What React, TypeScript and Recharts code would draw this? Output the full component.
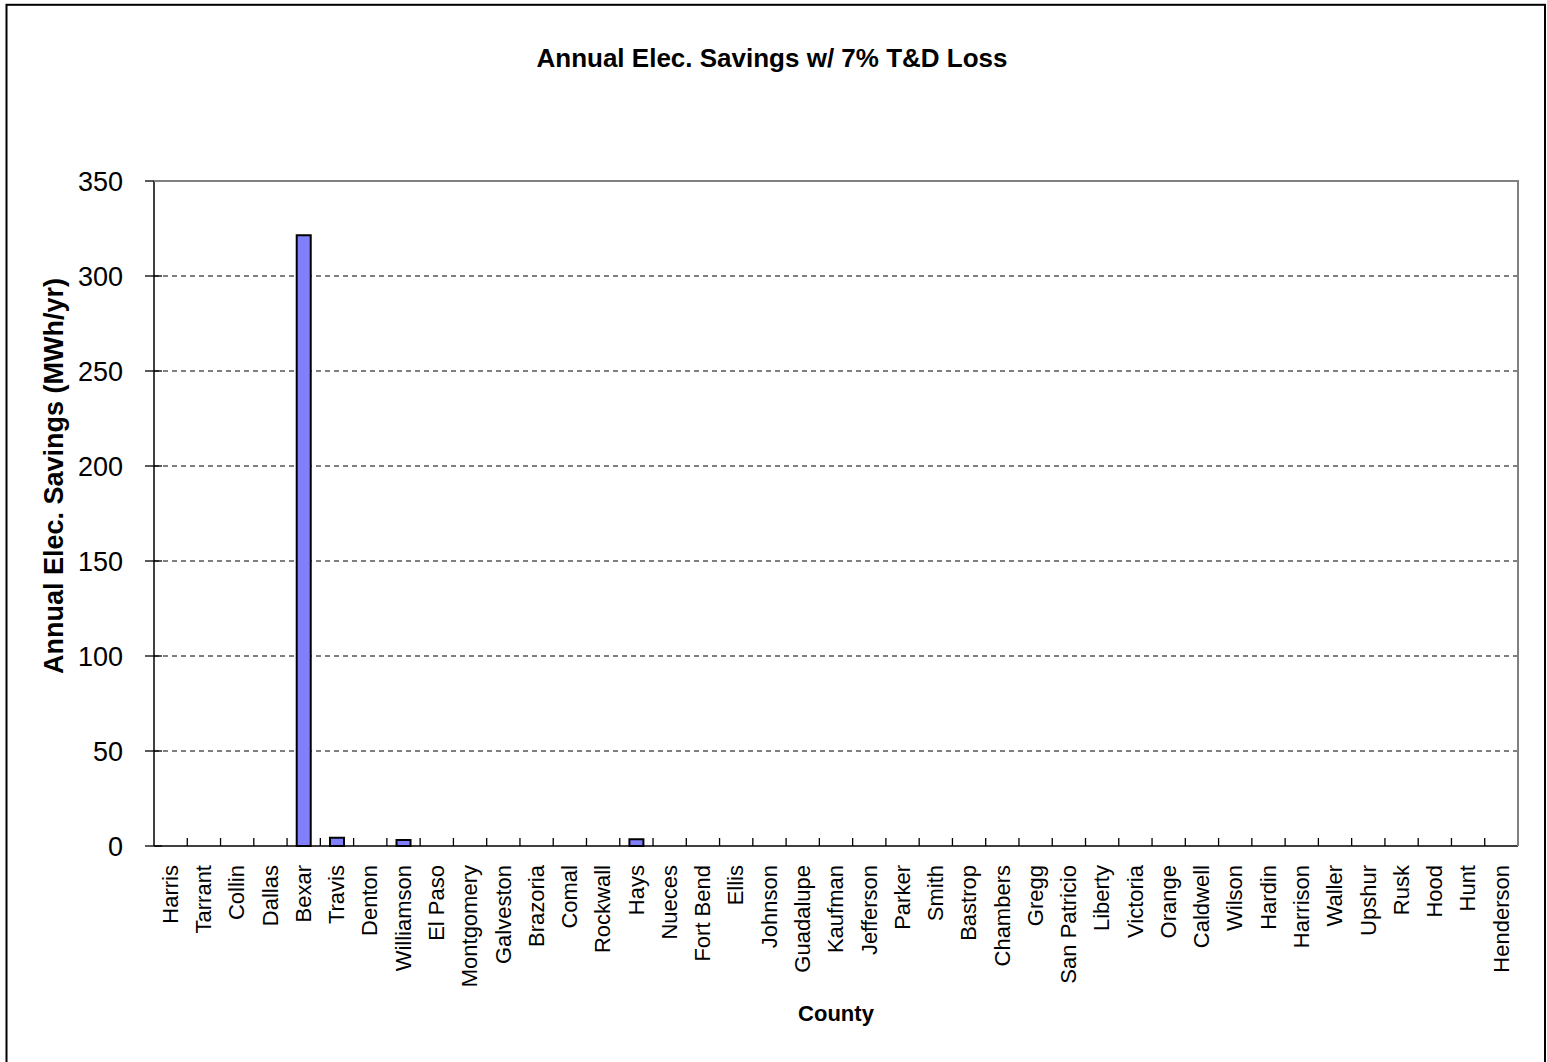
import React from 'react';
import { BarChart, Bar, XAxis, YAxis, CartesianGrid } from 'recharts';

const counties = [
  'Harris', 'Tarrant', 'Collin', 'Dallas', 'Bexar', 'Travis', 'Denton', 'Williamson', 'El Paso',
  'Montgomery', 'Galveston', 'Brazoria', 'Comal', 'Rockwall', 'Hays', 'Nueces', 'Fort Bend', 'Ellis',
  'Johnson', 'Guadalupe', 'Kaufman', 'Jefferson', 'Parker', 'Smith', 'Bastrop', 'Chambers', 'Gregg',
  'San Patricio', 'Liberty', 'Victoria', 'Orange', 'Caldwell', 'Wilson', 'Hardin', 'Harrison', 'Waller',
  'Upshur', 'Rusk', 'Hood', 'Hunt', 'Henderson',
];

// MWh/yr
const savings = [
  0, 0, 0, 0, 321.5, 4.3, 0, 3.2, 0,
  0, 0, 0, 0, 0, 3.5, 0, 0, 0,
  0, 0, 0, 0, 0, 0, 0, 0, 0,
  0, 0, 0, 0, 0, 0, 0, 0, 0,
  0, 0, 0, 0, 0,
];

const yTicks = [0, 50, 100, 150, 200, 250, 300, 350];
const gridValues = [50, 100, 150, 200, 250, 300];

const data = counties.map((county, i) => ({ county, savings: savings[i] }));

// layout
const CHART_W = 1547;
const CHART_H = 1062;
const Y_AXIS_W = 154;
const X_AXIS_H = 216;
const MARGIN = { top: 181, right: 29, bottom: 0, left: 0 };
const PLOT_LEFT = MARGIN.left + Y_AXIS_W;
const PLOT_TOP = MARGIN.top;
const PLOT_BOTTOM = CHART_H - X_AXIS_H;
const PLOT_RIGHT = CHART_W - MARGIN.right;
const PLOT_W = PLOT_RIGHT - PLOT_LEFT;
const BAND = PLOT_W / counties.length;
const FONT = '"Liberation Sans", Arial, sans-serif';

const CountyTick = (props: any) => {
  const { x, payload } = props;
  return (
    <g>
      <line x1={x + BAND / 2} y1={PLOT_BOTTOM} x2={x + BAND / 2} y2={PLOT_BOTTOM - 8} stroke="#000" strokeWidth={1.3} />
      <text
        x={x}
        y={PLOT_BOTTOM + 19}
        dy="0.33em"
        transform={`rotate(-90, ${x}, ${PLOT_BOTTOM + 19})`}
        textAnchor="end"
        fontSize={22}
        fontFamily={FONT}
        fill="#000"
      >
        {payload.value}
      </text>
    </g>
  );
};

const ValueTick = (props: any) => {
  const { y, payload } = props;
  return (
    <g>
      <line x1={PLOT_LEFT - 9} y1={y} x2={PLOT_LEFT + 8} y2={y} stroke="#000" strokeWidth={1.3} />
      <text x={PLOT_LEFT - 31} y={y} dy="0.36em" textAnchor="end" fontSize={27} fontFamily={FONT} fill="#000">
        {payload.value}
      </text>
    </g>
  );
};

export default function App() {
  return (
    <div style={{ position: 'absolute', left: 0, top: 0, width: CHART_W, height: CHART_H, overflow: 'hidden', background: '#fff' }}>
      <BarChart width={CHART_W} height={CHART_H} data={data} margin={MARGIN} barCategoryGap="29%">
        <CartesianGrid vertical={false} horizontalValues={gridValues} stroke="#000" strokeDasharray="5 4" strokeWidth={1} />
        <XAxis
          dataKey="county"
          height={X_AXIS_H}
          interval={0}
          tick={<CountyTick />}
          tickLine={false}
          axisLine={{ stroke: '#000', strokeWidth: 1.5 }}
        />
        <YAxis
          width={Y_AXIS_W}
          domain={[0, 350]}
          ticks={yTicks}
          interval={0}
          tick={<ValueTick />}
          tickLine={false}
          axisLine={{ stroke: '#000', strokeWidth: 1.5 }}
        />
        <Bar dataKey="savings" fill="#8080FF" stroke="#000" strokeWidth={2} isAnimationActive={false} />
      </BarChart>
      <svg width={CHART_W} height={CHART_H} style={{ position: 'absolute', left: 0, top: 0, pointerEvents: 'none' }}>
        {/* plot area frame: top and right edges */}
        <polyline
          points={`${PLOT_LEFT},${PLOT_TOP} ${PLOT_RIGHT},${PLOT_TOP} ${PLOT_RIGHT},${PLOT_BOTTOM}`}
          fill="none"
          stroke="#808080"
          strokeWidth={2}
        />
        <rect x={6.5} y={4.8} width={1538.5} height={1100} fill="none" stroke="#000" strokeWidth={2} />
        <text x={772} y={67} textAnchor="middle" fontSize={26} fontWeight="bold" fontFamily={FONT}>
          Annual Elec. Savings w/ 7% T&amp;D Loss
        </text>
        <text x={63} y={476} transform="rotate(-90, 63, 476)" textAnchor="middle" fontSize={27} fontWeight="bold" fontFamily={FONT}>
          Annual Elec. Savings (MWh/yr)
        </text>
        <text x={836} y={1021} textAnchor="middle" fontSize={22} fontWeight="bold" fontFamily={FONT}>
          County
        </text>
      </svg>
    </div>
  );
}
